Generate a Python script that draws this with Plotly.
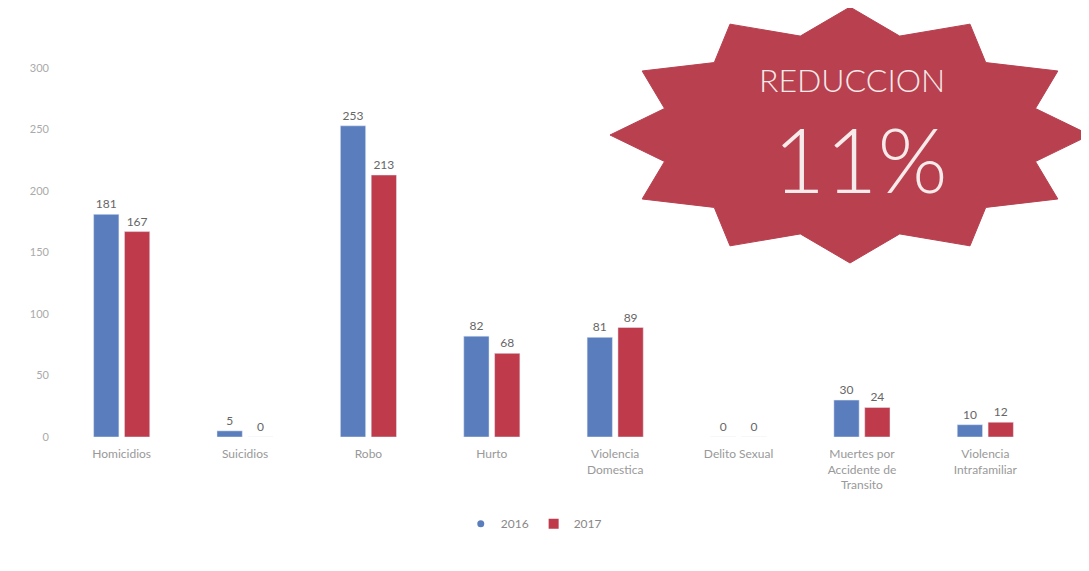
import math
import plotly.graph_objects as go

categories = ["Homicidios", "Suicidios", "Robo", "Hurto", "Violencia<br>Domestica",
              "Delito Sexual", "Muertes por<br>Accidente de<br>Transito", "Violencia<br>Intrafamiliar"]
values_2016 = [181, 5, 253, 82, 81, 0, 30, 10]
values_2017 = [167, 0, 213, 68, 89, 0, 24, 12]
series_names = ["2016", "2017"]
y_ticks = [0, 50, 100, 150, 200, 250, 300]
badge_title = "REDUCCION"
badge_value = "11%"

OFF = 8  # page body margin
W, H = 1089 - 2 * OFF, 571 - 2 * OFF
ML, MT = 60 - OFF, 68 - OFF
PR, PB = 1047 - OFF, 437 - OFF
MR, MB = W - PR, H - PB
PW, PH = W - ML - MR, H - MT - MB

BLUE = "#5a7dbd"
RED = "#bf3a4b"
STAR = "#b8404f"

def px2paper(px, py):
    # px, py in reference-screen pixels
    px -= OFF
    py -= OFF
    return (px - ML) / PW, (PB - py) / PH

fig = go.Figure()
fig.add_trace(go.Bar(x=categories, y=values_2016, name=series_names[0], marker_color=BLUE,
                     text=values_2016, textposition="outside", showlegend=False,
                     textfont=dict(color="#666", size=12), cliponaxis=False))
fig.add_trace(go.Bar(x=categories, y=values_2017, name=series_names[1], marker_color=RED,
                     text=values_2017, textposition="outside", showlegend=False,
                     textfont=dict(color="#666", size=12), cliponaxis=False))
# legend entries
fig.add_trace(go.Scatter(x=[None], y=[None], mode="markers", name=series_names[0],
                         marker=dict(symbol="circle", color=BLUE, size=7)))
fig.add_trace(go.Scatter(x=[None], y=[None], mode="markers", name=series_names[1],
                         marker=dict(symbol="square", color=RED, size=10)))

# starburst badge
cx, cy, rx, ry, n, inner = 850, 135, 240, 128, 12, 0.80
pts = []
for i in range(2 * n):
    ang = math.radians(90 - i * 180 / n)
    r = 1.0 if i % 2 == 0 else inner
    pts.append(px2paper(cx + rx * r * math.cos(ang), cy - ry * r * math.sin(ang)))
path = "M " + " L ".join(f"{x:.5f},{y:.5f}" for x, y in pts) + " Z"
fig.add_shape(type="path", path=path, xref="paper", yref="paper",
              fillcolor=STAR, line=dict(color=STAR, width=1), layer="above")

tx, ty = px2paper(852, 80)
fig.add_annotation(x=tx, y=ty, xref="paper", yref="paper", text=badge_title, showarrow=False,
                   xanchor="center", yanchor="middle",
                   font=dict(family="Lato Light, Lato", size=32, color="#f6eaea"))
tx, ty = px2paper(860, 158)
fig.add_annotation(x=tx, y=ty, xref="paper", yref="paper", text=badge_value, showarrow=False,
                   xanchor="center", yanchor="middle",
                   font=dict(family="Lato Light, Lato", size=90, color="#f6eaea"))

fig.update_layout(
    width=W, height=H,
    margin=dict(l=ML, r=MR, t=MT, b=MB),
    paper_bgcolor="white", plot_bgcolor="white",
    barmode="group", bargap=0.5, bargroupgap=0.18,
    font=dict(family="Lato", color="#888"),
    legend=dict(orientation="h", x=0.48, xanchor="center", y=-0.235, yanchor="middle",
                font=dict(size=12, color="#888"), itemwidth=30),
    xaxis=dict(showgrid=False, showline=False, ticks="", tickfont=dict(size=12, color="#999"),
               tickangle=0, ticklabelstandoff=8),
    yaxis=dict(range=[0, 300], tickvals=y_ticks, showgrid=False, zeroline=False,
               tickfont=dict(size=11, color="#aaa"), ticks="", ticklabelstandoff=10),
)

fig.write_html("out.html")
